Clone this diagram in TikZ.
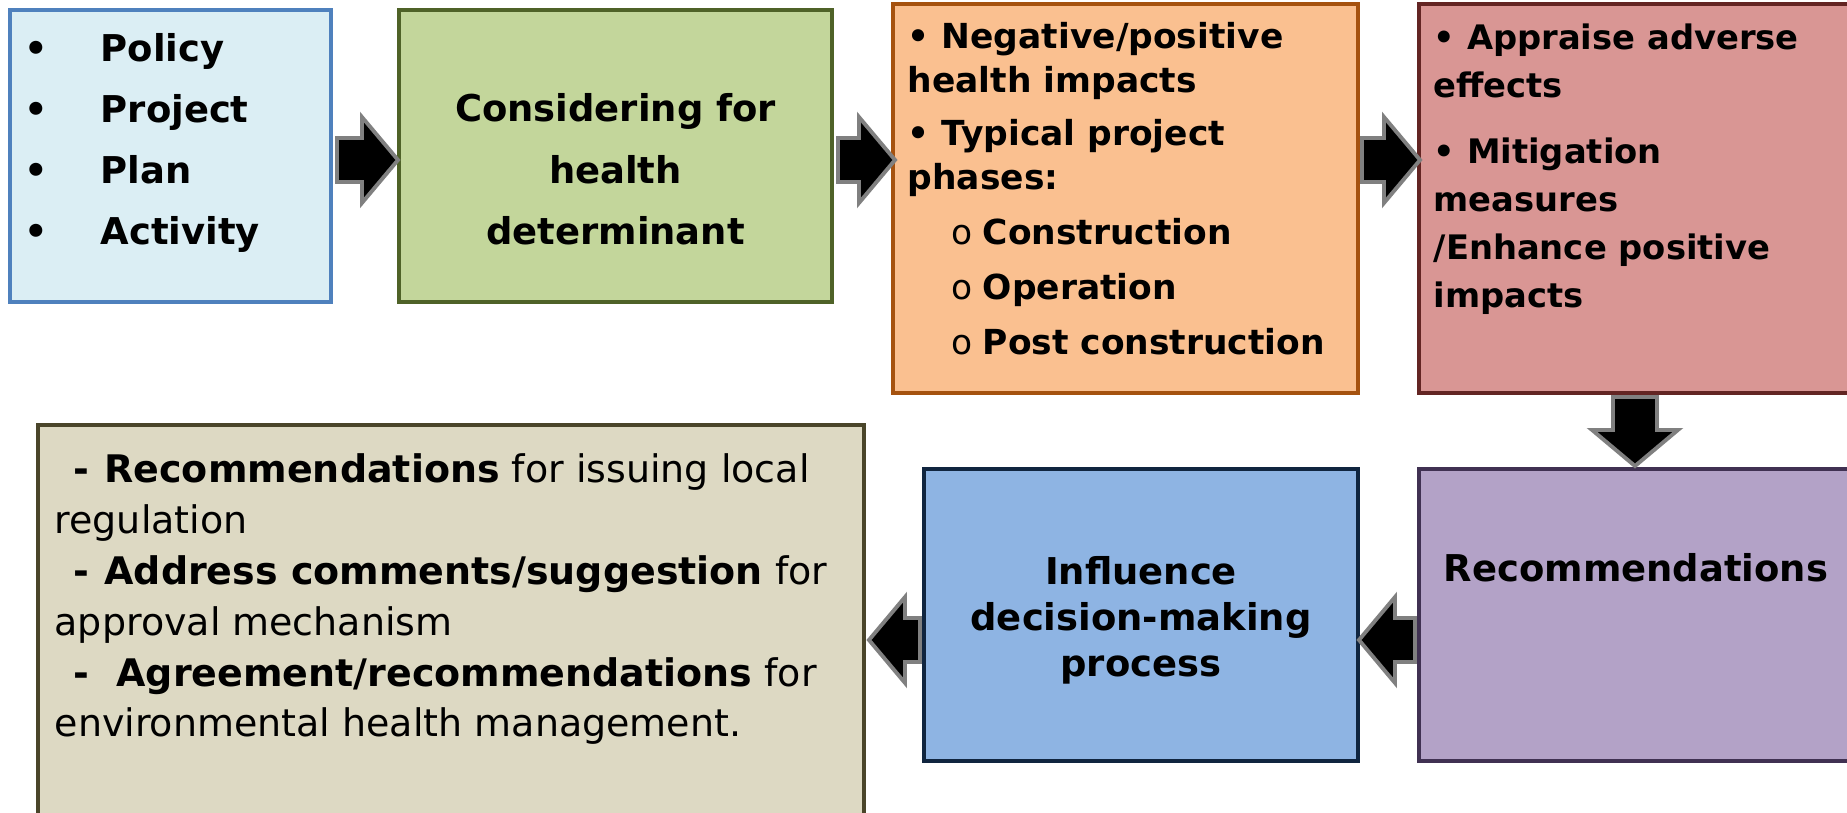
\documentclass[tikz,border=0pt]{standalone}
\usepackage{fontspec}
\setmainfont{DejaVu Sans}
\usetikzlibrary{shapes.arrows,calc}

\definecolor{inputfill}{HTML}{DBEEF4}
\definecolor{inputline}{HTML}{4F81BD}
\definecolor{considerfill}{HTML}{C3D69B}
\definecolor{considerline}{HTML}{4F6228}
\definecolor{impactfill}{HTML}{FAC090}
\definecolor{impactline}{HTML}{A5520F}
\definecolor{appraisefill}{HTML}{D99694}
\definecolor{appraiseline}{HTML}{632523}
\definecolor{recomfill}{HTML}{B3A2C7}
\definecolor{recomline}{HTML}{403152}
\definecolor{influencefill}{HTML}{8EB4E3}
\definecolor{influenceline}{HTML}{10253F}
\definecolor{outcomefill}{HTML}{DDD9C3}
\definecolor{outcomeline}{HTML}{4A452A}
\definecolor{arrowgray}{HTML}{808080}

\newcommand{\boxfont}[2]{\fontsize{#1}{#2}\selectfont}

\begin{document}
\begin{tikzpicture}[x=0.01cm,y=-0.01cm,
    box/.style={draw,line width=1.1pt,inner sep=0pt},
    blockarrow/.style={single arrow,draw=arrowgray,fill=black,line width=1.1pt,
      inner xsep=0pt,inner ysep=0.2cm,minimum height=0.6cm,anchor=tail,
      single arrow head extend=0.21cm,single arrow tip angle=100},
    txt/.style={inner sep=0pt,align=left}
  ]
  \useasboundingbox (0,0) rectangle (1847,813);

  \node[box,draw=inputline,fill=inputfill,minimum width=3.21cm,minimum height=2.92cm] (inputs) at (170.5,156) {};
  \node[box,draw=considerline,fill=considerfill,minimum width=4.33cm,minimum height=2.92cm] (consider) at (615.5,156) {};
  \node[box,draw=impactline,fill=impactfill,minimum width=4.65cm,minimum height=3.89cm] (impacts) at (1125.5,198.5) {};
  \node[box,draw=appraiseline,fill=appraisefill,minimum width=4.39cm,minimum height=3.89cm] (appraise) at (1638.5,198.5) {};
  \node[box,draw=recomline,fill=recomfill,minimum width=4.39cm,minimum height=2.92cm] (recom) at (1638.5,615) {};
  \node[box,draw=influenceline,fill=influencefill,minimum width=4.34cm,minimum height=2.92cm] (influence) at (1141,615) {};
  \node[box,draw=outcomeline,fill=outcomefill,minimum width=8.26cm,minimum height=4.23cm] (outcome) at (451,636.5) {};

  \node[blockarrow,minimum height=0.61cm] (a1) at ($(inputs.east)+(2,4)$) {};
  \node[blockarrow,minimum height=0.57cm] (a2) at ($(consider.east)+(2,4)$) {};
  \node[blockarrow,minimum height=0.58cm] (a3) at ($(impacts.east)+(0,-38.5)$) {};
  \node[blockarrow,rotate=-90,minimum height=0.69cm] (a4) at ($(appraise.south)+(-3.5,0)$) {};
  \node[blockarrow,rotate=180,minimum height=0.56cm] (a5) at ($(recom.west)+(0,25)$) {};
  \node[blockarrow,rotate=180,minimum height=0.51cm] (a6) at ($(influence.west)+(0,25)$) {};

  \node[txt,anchor=base west,font=\boxfont{10.5}{17.4pt}\bfseries] (inputstext) at (24,245)
    {\makebox[0.76cm][l]{\textbullet}Policy\\\makebox[0.76cm][l]{\textbullet}Project\\
     \makebox[0.76cm][l]{\textbullet}Plan\\\makebox[0.76cm][l]{\textbullet}Activity};
  \node[txt,align=center,anchor=base,font=\boxfont{10.5}{17.5pt}\bfseries] (considertext) at (615.5,245)
    {Considering for\\health\\determinant};
  \node[txt,anchor=base west,font=\boxfont{9.8}{12.5pt}\bfseries] (impactstext) at (907,355)
    {\textbullet\ Negative/positive\\health impacts\\[2.6pt]
     \textbullet\ Typical project\\phases:\\[3.1pt]
     \hspace*{0.44cm}\makebox[0.31cm][l]{\mdseries o}Construction\\[3.1pt]
     \hspace*{0.44cm}\makebox[0.31cm][l]{\mdseries o}Operation\\[3.4pt]
     \hspace*{0.44cm}\makebox[0.31cm][l]{\mdseries o}Post construction};
  \node[txt,anchor=base west,font=\boxfont{9.6}{13.7pt}\bfseries] (appraisetext) at (1433,308)
    {\textbullet\ Appraise adverse\\effects\\[5.1pt]
     \textbullet\ Mitigation\\measures\\/Enhance positive\\impacts};
  \node[txt,anchor=base,font=\boxfont{10.5}{13pt}\bfseries] (recomtext) at (1636,582) {Recommendations};
  \node[txt,align=center,anchor=base,font=\boxfont{10.5}{13.1pt}\bfseries] (influencetext) at (1141,677)
    {Influence\\decision-making\\process};
  \node[txt,anchor=base west,font=\boxfont{10.8}{14.5pt}] (outcometext) at (54,737)
    {\hspace*{0.19cm}\textbf{-}\hspace*{0.15cm}\textbf{Recommendations} for issuing local\\regulation\\
     \hspace*{0.19cm}\textbf{-}\hspace*{0.15cm}\textbf{Address comments/suggestion} for\\approval mechanism\\
     \hspace*{0.19cm}\textbf{-}\hspace*{0.27cm}\textbf{Agreement/recommendations} for\\environmental health management.};
\end{tikzpicture}
\end{document}
